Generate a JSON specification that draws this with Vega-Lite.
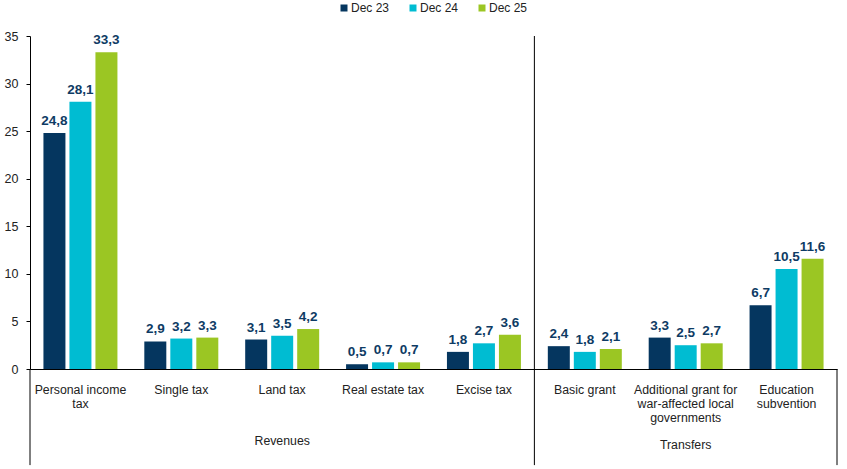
{
  "$schema": "https://vega.github.io/schema/vega-lite/v6.json",
  "width": 807,
  "height": 333,
  "autosize": {"type": "none"},
  "padding": {"left": 30, "top": 36, "right": 10, "bottom": 100},
  "config": {
    "font": "Liberation Sans",
    "view": {"stroke": null},
    "locale": {"number": {"decimal": ",", "thousands": ".", "grouping": [3], "currency": ["", " €"]}}
  },
  "datasets": {
    "bars": [
      {"category": "Personal income tax", "series": "Dec 23", "value": 24.8},
      {"category": "Personal income tax", "series": "Dec 24", "value": 28.1},
      {"category": "Personal income tax", "series": "Dec 25", "value": 33.3},
      {"category": "Single tax", "series": "Dec 23", "value": 2.9},
      {"category": "Single tax", "series": "Dec 24", "value": 3.2},
      {"category": "Single tax", "series": "Dec 25", "value": 3.3},
      {"category": "Land tax", "series": "Dec 23", "value": 3.1},
      {"category": "Land tax", "series": "Dec 24", "value": 3.5},
      {"category": "Land tax", "series": "Dec 25", "value": 4.2},
      {"category": "Real estate tax", "series": "Dec 23", "value": 0.5},
      {"category": "Real estate tax", "series": "Dec 24", "value": 0.7},
      {"category": "Real estate tax", "series": "Dec 25", "value": 0.7},
      {"category": "Excise tax", "series": "Dec 23", "value": 1.8},
      {"category": "Excise tax", "series": "Dec 24", "value": 2.7},
      {"category": "Excise tax", "series": "Dec 25", "value": 3.6},
      {"category": "Basic grant", "series": "Dec 23", "value": 2.4},
      {"category": "Basic grant", "series": "Dec 24", "value": 1.8},
      {"category": "Basic grant", "series": "Dec 25", "value": 2.1},
      {"category": "Additional grant for war-affected local governments", "series": "Dec 23", "value": 3.3},
      {"category": "Additional grant for war-affected local governments", "series": "Dec 24", "value": 2.5},
      {"category": "Additional grant for war-affected local governments", "series": "Dec 25", "value": 2.7},
      {"category": "Education subvention", "series": "Dec 23", "value": 6.7},
      {"category": "Education subvention", "series": "Dec 24", "value": 10.5},
      {"category": "Education subvention", "series": "Dec 25", "value": 11.6}
    ]
  },
  "layer": [
    {
      "data": {"name": "bars"},
      "mark": {"type": "bar"},
      "encoding": {
        "x": {
          "field": "category", "type": "nominal",
          "scale": {
            "domain": ["Personal income tax", "Single tax", "Land tax", "Real estate tax", "Excise tax", "Basic grant", "Additional grant for war-affected local governments", "Education subvention"],
            "paddingInner": 0, "paddingOuter": 0
          },
          "axis": {
            "title": null, "labelAngle": 0, "ticks": false, "domainColor": "#000000", "domainWidth": 1,
            "labelFontSize": 12.3, "labelColor": "#222222", "labelPadding": 14, "labelBaseline": "top", "labelLineHeight": 14, "labelLimit": 200,
            "labelExpr": "datum.value == 'Personal income tax' ? ['Personal income', 'tax'] : datum.value == 'Additional grant for war-affected local governments' ? ['Additional grant for', 'war-affected local', 'governments'] : datum.value == 'Education subvention' ? ['Education', 'subvention'] : datum.value"
          }
        },
        "xOffset": {"field": "series", "type": "nominal", "scale": {"paddingInner": 0.154, "paddingOuter": 0.517}},
        "y": {
          "field": "value", "type": "quantitative",
          "scale": {"domain": [0, 35], "nice": false},
          "axis": {
            "title": null, "grid": false, "values": [0, 5, 10, 15, 20, 25, 30, 35], "format": "d",
            "domainColor": "#000000", "tickColor": "#000000", "tickSize": 4, "labelFontSize": 12.5, "labelColor": "#222222", "labelPadding": 8
          }
        },
        "color": {
          "field": "series", "type": "nominal",
          "scale": {"domain": ["Dec 23", "Dec 24", "Dec 25"], "range": ["#05365F", "#00BCD2", "#9BC623"]},
          "legend": {
            "title": null, "orient": "none", "direction": "horizontal", "columns": 3,
            "legendX": 308, "legendY": -34, "symbolType": "square", "symbolSize": 49, "symbolStrokeWidth": 0,
            "labelFontSize": 12, "labelColor": "#222222", "labelOffset": 1, "columnPadding": 17, "padding": 0
          }
        }
      }
    },
    {
      "data": {"name": "bars"},
      "mark": {"type": "text", "baseline": "bottom", "dy": -5, "fontSize": 13.5, "fontWeight": "bold", "color": "#0E3B64"},
      "encoding": {
        "x": {"field": "category", "type": "nominal"},
        "xOffset": {"field": "series", "type": "nominal"},
        "y": {"field": "value", "type": "quantitative"},
        "text": {"field": "value", "type": "quantitative", "format": ".1f"}
      }
    },
    {
      "data": {"values": [{"group": "Revenues"}]},
      "mark": {"type": "text", "baseline": "middle", "fontSize": 12.3, "color": "#222222"},
      "encoding": {
        "x": {"datum": "Land tax"},
        "y": {"datum": -7.6},
        "text": {"field": "group", "type": "nominal"}
      }
    },
    {
      "data": {"values": [{"group": "Transfers"}]},
      "mark": {"type": "text", "baseline": "middle", "fontSize": 12.3, "color": "#222222"},
      "encoding": {
        "x": {"datum": "Additional grant for war-affected local governments"},
        "y": {"datum": -8.0},
        "text": {"field": "group", "type": "nominal"}
      }
    },
    {
      "data": {"values": [{}]},
      "mark": {"type": "rule", "color": "#000000", "strokeWidth": 1},
      "encoding": {
        "x": {"datum": "Personal income tax", "bandPosition": 0},
        "y": {"datum": 0},
        "y2": {"datum": -10.1}
      }
    },
    {
      "data": {"values": [{}]},
      "mark": {"type": "rule", "color": "#000000", "strokeWidth": 1},
      "encoding": {
        "x": {"datum": "Basic grant", "bandPosition": 0},
        "y": {"datum": 35},
        "y2": {"datum": -10.1}
      }
    },
    {
      "data": {"values": [{}]},
      "mark": {"type": "rule", "color": "#000000", "strokeWidth": 1},
      "encoding": {
        "x": {"datum": "Education subvention", "bandPosition": 1},
        "y": {"datum": 0},
        "y2": {"datum": -10.1}
      }
    }
  ]
}
